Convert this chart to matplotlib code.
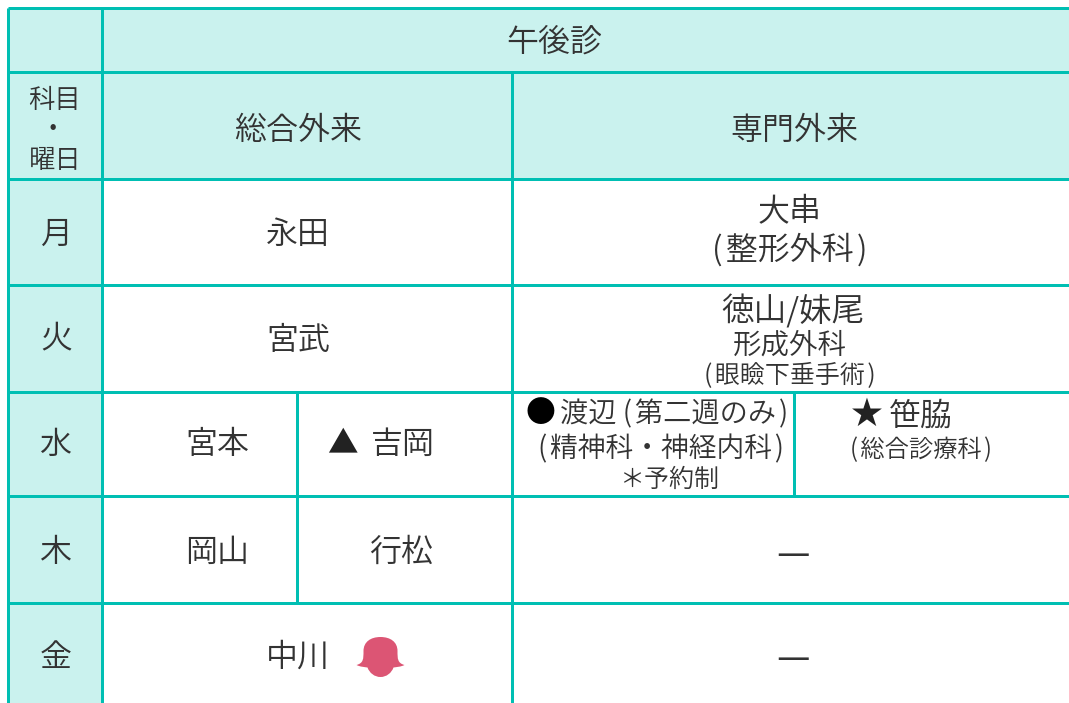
import matplotlib
matplotlib.use('Agg')
import matplotlib.pyplot as plt
from matplotlib.patches import PathPatch, Rectangle
from matplotlib.path import Path
from matplotlib.transforms import Affine2D

plt.rcParams['font.family'] = ['Noto Sans CJK JP', 'DejaVu Sans']
plt.rcParams['font.weight'] = 350

days = ['月', '火', '水', '木', '金']
header_top = '午後診'
header_left = ['科目', '・', '曜日']
header_cols = ['総合外来', '専門外来']
general = ['永田', '宮武', None, None, '中川']
general_split = {2: ('宮本', '吉岡'), 3: ('岡山', '行松')}

LINE = '#00bfb3'
FILL = '#caf2ee'
INK = '#333333'
W, H = 1069, 703
HS = '\u200a'

# grid positions in px (agg snaps these to +0.5 for the 3px lines)
xs = [8, 102, 297, 512, 794]
ys = [8, 72, 179, 285, 392, 496, 603]
day_y = [235, 339, 445, 554, 659]

fig = plt.figure(figsize=(W / 100, H / 100), dpi=100)
ax = fig.add_axes([0, 0, 1, 1])
ax.set_xlim(0, W)
ax.set_ylim(H, 0)
ax.axis('off')

# shaded header cells
ax.add_patch(Rectangle((xs[0], ys[0]), xs[1] - xs[0], H - ys[0], fc=FILL, ec='none'))
ax.add_patch(Rectangle((xs[1], ys[0]), W - xs[1], ys[2] - ys[0], fc=FILL, ec='none'))

lw = 3 * 72 / 100
for y in ys:
    ax.plot([xs[0], W], [y, y], color=LINE, lw=lw, solid_capstyle='butt')
ax.plot([xs[0], xs[0]], [ys[0], H], color=LINE, lw=lw, solid_capstyle='butt')
ax.plot([xs[1], xs[1]], [ys[0], H], color=LINE, lw=lw, solid_capstyle='butt')
ax.plot([xs[3], xs[3]], [ys[1], H], color=LINE, lw=lw, solid_capstyle='butt')
ax.plot([xs[2], xs[2]], [ys[4], ys[6]], color=LINE, lw=lw, solid_capstyle='butt')
ax.plot([xs[4], xs[4]], [ys[4], ys[5]], color=LINE, lw=lw, solid_capstyle='butt')


def put(x, y, s, size=23, color=INK, **kw):
    ax.text(x, y, s, fontsize=size, color=color, ha='center', va='center', **kw)


put(554, 43, header_top)
put(55, 101, header_left[0], size=19)
put(53, 130, header_left[1], size=19)
put(55, 160, header_left[2], size=19)
put(298, 131, header_cols[0])
put(794, 131, header_cols[1])

for y, d in zip(day_y, days):
    put(56, y, d)

put(298, 236, general[0])
put(298, 342, general[1])
put(298, 658, general[4])
put(217, 445, general_split[2][0])
put(342.5, 444, '▲', size=22, color='#222222')
put(403, 445, general_split[2][1])
put(217, 553, general_split[3][0])
put(401, 553, general_split[3][1])

put(790, 213, '大串')
put(790, 251, f'({HS}整形外科{HS})')
put(793, 311, '徳山/妹尾', size=23.5)
put(790, 346, '形成外科', size=20.5)
put(790, 376, f'({HS}眼瞼下垂手術{HS})', size=18)
put(540, 414, '●', size=21.5, color='#000000')
put(674, 414, f'渡辺 ({HS}第二週のみ{HS})', size=20.3)
put(661.5, 449, f'({HS}精神科・神経内科{HS})', size=20)
put(669, 480, '＊予約制', size=18)
put(867, 415, '★', size=23, color='#222222')
put(921, 417, '笹脇')
put(920.5, 450, f'({HS}総合診療科{HS})', size=17.5)
put(793.5, 556, '—', size=27)
put(793.5, 659, '—', size=27)

# bell-shaped icon beside 中川
bell = Path(
    [(0, -20), (-10, -20), (-17, -15), (-17, -6), (-17, 2), (-17, 6), (-24, 8),
     (-20, 10), (-16, 10), (-13, 10.5), (-11, 16), (-6, 20), (0, 20),
     (6, 20), (11, 16), (13, 10.5), (16, 10), (20, 10), (24, 8),
     (17, 6), (17, 2), (17, -6), (17, -15), (10, -20), (0, -20)],
    [Path.MOVETO] + [Path.CURVE4] * 24,
)
ax.add_patch(PathPatch(bell, fc='#dc5574', ec='none',
                       transform=Affine2D().translate(380.5, 657) + ax.transData))

fig.savefig('out.png', dpi=100)
